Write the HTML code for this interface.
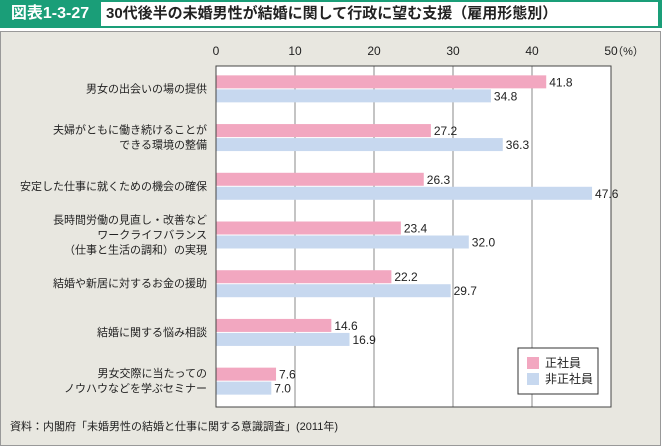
<!DOCTYPE html>
<html><head><meta charset="utf-8"><style>
body{margin:0;width:662px;height:447px;overflow:hidden;background:#fff;font-family:"Liberation Sans","Noto Sans CJK JP",sans-serif;}
#hdr{position:absolute;left:0;top:0;width:662px;height:28px;background:#1a9e78;}
#lab{position:absolute;left:2px;top:2px;width:96px;height:24px;color:#fff;font-weight:bold;font-size:16px;line-height:24px;text-align:center;}
#ttl{position:absolute;left:101px;top:2px;width:557px;height:24px;background:#fff;font-weight:bold;font-size:15px;line-height:24px;padding-left:5px;box-sizing:border-box;color:#222;}
#panel{position:absolute;left:0;top:31px;width:661px;height:415px;background:#e8e7e0;border:1px solid #999;box-sizing:border-box;}
svg{position:absolute;left:0;top:0;}
text{font-family:"Liberation Sans","Noto Sans CJK JP",sans-serif;fill:#222;}
</style></head><body>
<div id="hdr"></div>
<div id="lab">図表1-3-27</div>
<div id="ttl">30代後半の未婚男性が結婚に関して行政に望む支援（雇用形態別）</div>
<div id="panel"></div>
<svg id="c" width="662" height="447"></svg>
<script>
const categories=[["男女の出会いの場の提供"],["夫婦がともに働き続けることが","できる環境の整備"],["安定した仕事に就くための機会の確保"],["長時間労働の見直し・改善など","ワークライフバランス","（仕事と生活の調和）の実現"],["結婚や新居に対するお金の援助"],["結婚に関する悩み相談"],["男女交際に当たっての","ノウハウなどを学ぶセミナー"]];
const seriesRegular=[41.8,27.2,26.3,23.4,22.2,14.6,7.6];
const seriesNonRegular=[34.8,36.3,47.6,32.0,29.7,16.9,7.0];
const tickValues=[0,10,20,30,40,50];
const seriesNames=["正社員","非正社員"];
const colors=["#f2a7c0","#c7d8ef"];
const svg=document.getElementById('c');const NS="http://www.w3.org/2000/svg";
function mk(t,a,p){const e=document.createElementNS(NS,t);for(const k in a)e.setAttribute(k,a[k]);(p||svg).appendChild(e);return e;}
const L=216,R=611,T=66,B=407;
const x=v=>L+(R-L)*v/50;
const gh=(B-T)/categories.length;
const pa=mk('rect',{x:L,y:T,width:R-L,height:B-T,fill:'#fff'});

tickValues.forEach(v=>{
 if(v>0&&v<50){const g=mk('line',{x1:x(v),x2:x(v),y1:T,y2:B,stroke:'#888','stroke-width':1});}
 const t=mk('text',{x:x(v),y:55,'font-size':12,'text-anchor':'middle'});t.textContent=v;
});
const u=mk('text',{x:628,y:55,'font-size':11,'text-anchor':'middle'});u.textContent='（%）';
categories.forEach((c,i)=>{
 const cy=T+gh*i+gh/2-2;
 [seriesRegular[i],seriesNonRegular[i]].forEach((v,j)=>{
  const y=cy-13+j*14;
  const r=mk('rect',{x:L,y:y,width:x(v)-L,height:13,fill:colors[j]});
  
  const t=mk('text',{x:x(v)+3,y:y+11,'font-size':12});t.textContent=v.toFixed(1);
  
 });
 c.forEach((s,k)=>{const t=mk('text',{x:207,y:cy+4+(k-(c.length-1)/2)*15,'font-size':11,'text-anchor':'end'});t.textContent=s;});
});
const fr=mk('rect',{x:L,y:T,width:R-L,height:B-T,fill:'none',stroke:'#444','stroke-width':1});

const lg=mk('rect',{x:518,y:348,width:80,height:46,fill:'#fff',stroke:'#333','stroke-width':1});

seriesNames.forEach((n,j)=>{
 const r=mk('rect',{x:527,y:357+j*16,width:12,height:12,fill:colors[j]});
 const t=mk('text',{x:545,y:367+j*16,'font-size':12});t.textContent=n;
});
const f=mk('text',{x:10,y:430,'font-size':11});f.textContent='資料：内閣府「未婚男性の結婚と仕事に関する意識調査」(2011年)';

</script>
</body></html>
